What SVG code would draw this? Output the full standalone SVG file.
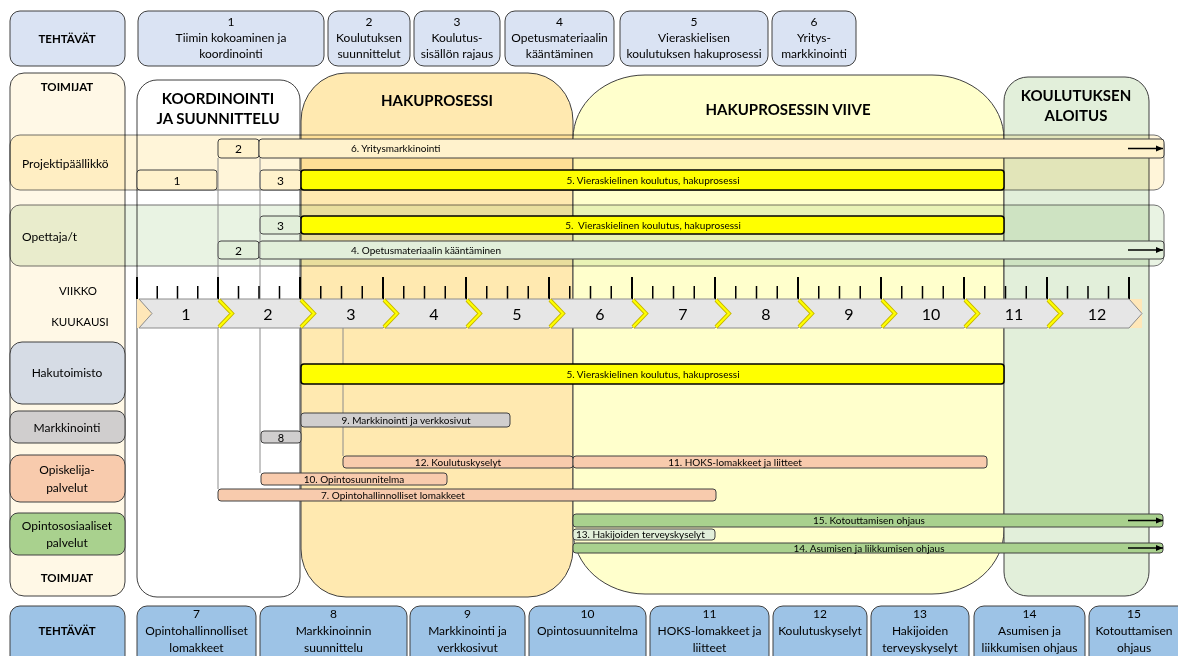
<svg xmlns="http://www.w3.org/2000/svg" width="1178" height="656" viewBox="0 0 1178 656">
<defs>
<marker id="ah" markerWidth="8" markerHeight="8" refX="7" refY="4" orient="auto" markerUnits="userSpaceOnUse"><path d="M0,1 L7,4 L0,7 Z" fill="#000"/></marker>
<style>
.t{font-family:Lato,"Liberation Sans",sans-serif;fill:#000}
.tb{font-family:Lato,"Liberation Sans",sans-serif;font-weight:bold;fill:#000}
.s12{font-size:12px}
.s10{font-size:10px}
.hdr{font-size:15px}
.lbl{font-size:11.5px}
.mid{text-anchor:middle}
.task{fill:#DAE3F3;stroke:#404040;stroke-width:1}
.task2{fill:#9DC3E6;stroke:#404040;stroke-width:1}
.ln{stroke:#404040;stroke-width:1}
.cream{fill:#FFF2CC}
.lg{fill:#E2EFDA}
.yel{fill:#FFFF00;stroke:#000;stroke-width:1.5}
.grey{fill:#D0CECE}
.peach{fill:#F8CBAD}
.green{fill:#A9D18E}
.row{mix-blend-mode:multiply;opacity:0.75}
.arr{stroke:#000;stroke-width:1.5;marker-end:url(#ah)}
.chev{fill:#E6E6E6;stroke:#8C8C8C;stroke-width:1}
.gap{fill:none;stroke:#C8B800;stroke-width:4}
.gap2{fill:none;stroke:#FFFF00;stroke-width:2.2}
.guide{stroke:#8C8C8C;stroke-width:1;fill:none}
</style>
</defs>
<rect width="1178" height="656" fill="#fff"/>

<!-- phase columns -->
<g id="toimijat-col"><rect x="10" y="73" width="115" height="523" rx="14" fill="#FFF8E6" class="ln"/>
<text class="tb lbl mid" x="67" y="91">TOIMIJAT</text>
<text class="tb lbl mid" x="67" y="582">TOIMIJAT</text></g>
<g id="phase-koordinointi"><rect x="137" y="80" width="163" height="517" rx="20" fill="#fff" class="ln"/>
<text class="tb hdr mid" x="218" y="104">KOORDINOINTI</text>
<text class="tb hdr mid" x="218" y="124">JA SUUNNITTELU</text></g>
<g id="phase-hakuprosessi"><rect x="301" y="73" width="272" height="524" rx="45" ry="48" fill="#FFE9B0" class="ln"/>
<text class="tb hdr mid" x="437" y="106">HAKUPROSESSI</text></g>
<g id="phase-viive"><rect x="573" y="75" width="431" height="519" rx="72" ry="64" fill="#FFFFCC" class="ln"/>
<text class="tb hdr mid" x="788" y="115">HAKUPROSESSIN VIIVE</text></g>
<g id="phase-aloitus"><rect x="1004" y="77" width="145" height="519" rx="24" fill="#E2EFDA" class="ln"/>
<text class="tb hdr mid" x="1076" y="101">KOULUTUKSEN</text>
<text class="tb hdr mid" x="1076" y="121">ALOITUS</text></g>

<!-- actor rows -->
<g id="row-projektipaallikko">
<rect class="row" x="10" y="135" width="1154" height="55" rx="10" fill="#FFF2CC" stroke="#404040"/>
<text class="t s12" x="22" y="168">Projektipäällikkö</text>
<rect class="cream ln" x="218" y="139" width="41" height="19" rx="3"/>
<text class="t s12 mid" x="238.5" y="153">2</text>
<rect class="cream ln" x="259" y="139" width="905" height="19" rx="3"/>
<text class="t s10" x="351" y="152">6. Yritysmarkkinointi</text>
<line class="arr" x1="1128" y1="148.5" x2="1163" y2="148.5"/>
<rect class="cream ln" x="137" y="170" width="80" height="20" rx="3"/>
<text class="t s12 mid" x="177" y="184.5">1</text>
<rect class="cream ln" x="260" y="170" width="41" height="20" rx="3"/>
<text class="t s12 mid" x="280.5" y="184.5">3</text>
<rect class="yel" x="301" y="170" width="703" height="20" rx="3"/>
<text class="t s10 mid" x="653" y="184">5. Vieraskielinen koulutus, hakuprosessi</text>
</g>
<g id="row-opettaja">
<rect class="row" x="10" y="205" width="1154" height="61" rx="10" fill="#E2EFDA" stroke="#404040"/>
<text class="t s12" x="22" y="241">Opettaja/t</text>
<rect class="lg ln" x="260" y="216" width="41" height="18" rx="3"/>
<text class="t s12 mid" x="280.5" y="229.5">3</text>
<rect class="yel" x="301" y="216" width="703" height="18" rx="3"/>
<text class="t s10 mid" x="653" y="229">5.&#160; Vieraskielinen koulutus, hakuprosessi</text>
<rect class="lg ln" x="218" y="241" width="41" height="18" rx="3"/>
<text class="t s12 mid" x="238.5" y="254.5">2</text>
<rect class="lg ln" x="259" y="241" width="905" height="18" rx="3"/>
<text class="t s10" x="351" y="254">4. Opetusmateriaalin kääntäminen</text>
<line class="arr" x1="1128" y1="250" x2="1163" y2="250"/>
</g>

<!-- connectors / guide lines -->
<g id="connectors">
<line class="guide" x1="218" y1="158" x2="218" y2="489"/>
<line class="guide" x1="260" y1="158" x2="260" y2="473" stroke="#A6A6A6"/>
<line class="guide" x1="343" y1="328" x2="343" y2="456" stroke="#A39E86"/>
</g>

<!-- timeline -->
<g id="timeline">
<text class="t lbl mid" x="78" y="295">VIIKKO</text>
<text class="t lbl mid" x="80" y="326">KUUKAUSI</text>
<path stroke="#000" stroke-width="2" d="M137,277V299M218,277V299M300,277V299M383,277V299M466,277V299M549,277V299M632,277V299M715,277V299M798,277V299M881,277V299M964,277V299M1047,277V299M1129,277V299"/>
<path stroke="#000" stroke-width="1.5" d="M157.25,286V299M177.5,286V299M197.75,286V299M238.5,286V299M259,286V299M279.5,286V299M320.75,286V299M341.5,286V299M362.25,286V299M403.75,286V299M424.5,286V299M445.25,286V299M486.75,286V299M507.5,286V299M528.25,286V299M569.75,286V299M590.5,286V299M611.25,286V299M652.75,286V299M673.5,286V299M694.25,286V299M735.75,286V299M756.5,286V299M777.25,286V299M818.75,286V299M839.5,286V299M860.25,286V299M901.75,286V299M922.5,286V299M943.25,286V299M984.75,286V299M1005.5,286V299M1026.25,286V299M1067.5,286V299M1088,286V299M1108.5,286V299"/>
<rect x="137" y="299" width="1005" height="29" fill="#FFE7B8"/>
<polygon class="chev" points="139,299 218,299 231,313.5 218,328 139,328 152,313.5"/>
<polygon class="chev" points="220,299 300,299 313,313.5 300,328 220,328 233,313.5"/>
<polygon class="chev" points="302,299 383,299 396,313.5 383,328 302,328 315,313.5"/>
<polygon class="chev" points="385,299 466,299 479,313.5 466,328 385,328 398,313.5"/>
<polygon class="chev" points="468,299 549,299 562,313.5 549,328 468,328 481,313.5"/>
<polygon class="chev" points="551,299 632,299 645,313.5 632,328 551,328 564,313.5"/>
<polygon class="chev" points="634,299 715,299 728,313.5 715,328 634,328 647,313.5"/>
<polygon class="chev" points="717,299 798,299 811,313.5 798,328 717,328 730,313.5"/>
<polygon class="chev" points="800,299 881,299 894,313.5 881,328 800,328 813,313.5"/>
<polygon class="chev" points="883,299 964,299 977,313.5 964,328 883,328 896,313.5"/>
<polygon class="chev" points="966,299 1047,299 1060,313.5 1047,328 966,328 979,313.5"/>
<polygon class="chev" points="1049,299 1129,299 1142,313.5 1129,328 1049,328 1062,313.5"/>
<path class="gap" d="M219,300L232,313.5L219,327M301,300L314,313.5L301,327M384,300L397,313.5L384,327M467,300L480,313.5L467,327M550,300L563,313.5L550,327M633,300L646,313.5L633,327M716,300L729,313.5L716,327M799,300L812,313.5L799,327M882,300L895,313.5L882,327M965,300L978,313.5L965,327M1048,300L1061,313.5L1048,327"/>
<path class="gap2" d="M219,300L232,313.5L219,327M301,300L314,313.5L301,327M384,300L397,313.5L384,327M467,300L480,313.5L467,327M550,300L563,313.5L550,327M633,300L646,313.5L633,327M716,300L729,313.5L716,327M799,300L812,313.5L799,327M882,300L895,313.5L882,327M965,300L978,313.5L965,327M1048,300L1061,313.5L1048,327"/>
<g class="t mid" font-size="16">
<text x="186" y="319.5">1</text><text x="268" y="319.5">2</text><text x="351" y="319.5">3</text><text x="434" y="319.5">4</text>
<text x="517" y="319.5">5</text><text x="600" y="319.5">6</text><text x="683" y="319.5">7</text><text x="766" y="319.5">8</text>
<text x="849" y="319.5">9</text><text x="931" y="319.5">10</text><text x="1014" y="319.5">11</text><text x="1097" y="319.5">12</text>
</g>
</g>

<!-- lower actors -->
<g id="actor-hakutoimisto"><rect x="10" y="342" width="115" height="62" rx="12" fill="#D6DCE5" class="ln"/>
<text class="t s12 mid" x="67" y="377" font-size="12.5">Hakutoimisto</text></g>
<g id="actor-markkinointi"><rect x="10" y="411" width="115" height="32" rx="8" fill="#D0CECE" class="ln"/>
<text class="t s12 mid" x="67" y="431.5">Markkinointi</text></g>
<g id="actor-opiskelijapalvelut"><rect x="10" y="455" width="115" height="47" rx="10" fill="#F8CBAD" class="ln"/>
<text class="t s12 mid" x="67" y="474">Opiskelija-</text>
<text class="t s12 mid" x="67" y="492">palvelut</text></g>
<g id="actor-opintososiaaliset"><rect x="10" y="513" width="115" height="42" rx="8" fill="#A9D18E" class="ln"/>
<text class="t s12 mid" x="67" y="530">Opintososiaaliset</text>
<text class="t s12 mid" x="67" y="547">palvelut</text></g>

<!-- lower bars -->
<g id="bar-hakutoimisto-5"><rect class="yel" x="301" y="364" width="703" height="20" rx="3"/>
<text class="t s10 mid" x="653" y="378">5. Vieraskielinen koulutus, hakuprosessi</text></g>
<g id="bar-9"><rect class="grey ln" x="301" y="413" width="209" height="14" rx="3"/>
<text class="t s10 mid" x="406" y="424">9. Markkinointi ja verkkosivut</text></g>
<g id="bar-8"><rect class="grey ln" x="261" y="431" width="40" height="12" rx="3"/>
<text class="t mid" font-size="11" x="281" y="441.5">8</text></g>
<g id="bar-12"><rect class="peach ln" x="343" y="456" width="230" height="12" rx="3"/>
<text class="t s10 mid" x="458" y="465.5">12. Koulutuskyselyt</text></g>
<g id="bar-11"><rect class="peach ln" x="573" y="456" width="414" height="12" rx="3"/>
<text class="t s10 mid" x="735" y="465.5">11. HOKS-lomakkeet ja liitteet</text></g>
<g id="bar-10"><rect class="peach ln" x="261" y="473" width="186" height="12" rx="3"/>
<text class="t s10 mid" x="354" y="482.5">10. Opintosuunnitelma</text></g>
<g id="bar-7"><rect class="peach ln" x="218" y="489" width="498" height="12" rx="3"/>
<text class="t s10 mid" x="393" y="498.5">7. Opintohallinnolliset lomakkeet</text></g>
<g id="bar-15"><rect class="green ln" x="573" y="514" width="590" height="13" rx="3"/>
<text class="t s10 mid" x="869" y="524">15. Kotouttamisen ohjaus</text>
<line class="arr" x1="1128" y1="520.5" x2="1163" y2="520.5"/></g>
<g id="bar-13"><rect class="lg ln" x="573" y="529" width="142" height="11" rx="3"/>
<text class="t s10" x="576" y="538">13. Hakijoiden terveyskyselyt</text></g>
<g id="bar-14"><rect class="green ln" x="573" y="543" width="590" height="10" rx="3"/>
<text class="t s10 mid" x="869" y="551.5">14. Asumisen ja liikkumisen ohjaus</text>
<line class="arr" x1="1128" y1="548" x2="1163" y2="548"/></g>

<!-- top tasks -->
<g id="top-tehtavat"><rect class="task" x="10" y="11" width="115" height="55" rx="10"/>
<text class="tb lbl mid" x="67" y="43">TEHTÄVÄT</text></g>
<g id="task-1"><rect class="task" x="138" y="11" width="186" height="55" rx="10"/>
<text class="t s12 mid" x="231" y="26">1</text><text class="t s12 mid" x="231" y="42">Tiimin kokoaminen ja</text><text class="t s12 mid" x="231" y="58">koordinointi</text></g>
<g id="task-2"><rect class="task" x="328" y="11" width="82" height="55" rx="10"/>
<text class="t s12 mid" x="369" y="26">2</text><text class="t s12 mid" x="369" y="42">Koulutuksen</text><text class="t s12 mid" x="369" y="58">suunnittelut</text></g>
<g id="task-3"><rect class="task" x="414" y="11" width="86" height="55" rx="10"/>
<text class="t s12 mid" x="457" y="26">3</text><text class="t s12 mid" x="457" y="42">Koulutus-</text><text class="t s12 mid" x="457" y="58">sisällön rajaus</text></g>
<g id="task-4"><rect class="task" x="505" y="11" width="109" height="55" rx="10"/>
<text class="t s12 mid" x="559.5" y="26">4</text><text class="t s12 mid" x="559.5" y="42">Opetusmateriaalin</text><text class="t s12 mid" x="559.5" y="58">kääntäminen</text></g>
<g id="task-5"><rect class="task" x="620" y="11" width="148" height="55" rx="10"/>
<text class="t s12 mid" x="694" y="26">5</text><text class="t s12 mid" x="694" y="42">Vieraskielisen</text><text class="t s12 mid" x="694" y="58">koulutuksen hakuprosessi</text></g>
<g id="task-6"><rect class="task" x="772" y="11" width="84" height="55" rx="10"/>
<text class="t s12 mid" x="814" y="26">6</text><text class="t s12 mid" x="814" y="42">Yritys-</text><text class="t s12 mid" x="814" y="58">markkinointi</text></g>

<!-- bottom tasks -->
<g id="bottom-tehtavat"><rect class="task2" x="10" y="606" width="115" height="60" rx="10"/>
<text class="tb lbl mid" x="67" y="635">TEHTÄVÄT</text></g>
<g id="task-7"><rect class="task2" x="137" y="606" width="119" height="60" rx="10"/>
<text class="t s12 mid" x="196.5" y="618">7</text><text class="t s12 mid" x="196.5" y="635">Opintohallinnolliset</text><text class="t s12 mid" x="196.5" y="652">lomakkeet</text></g>
<g id="task-8"><rect class="task2" x="260" y="606" width="147" height="60" rx="10"/>
<text class="t s12 mid" x="333.5" y="618">8</text><text class="t s12 mid" x="333.5" y="635">Markkinoinnin</text><text class="t s12 mid" x="333.5" y="652">suunnittelu</text></g>
<g id="task-9"><rect class="task2" x="410" y="606" width="115" height="60" rx="10"/>
<text class="t s12 mid" x="467.5" y="618">9</text><text class="t s12 mid" x="467.5" y="635">Markkinointi ja</text><text class="t s12 mid" x="467.5" y="652">verkkosivut</text></g>
<g id="task-10"><rect class="task2" x="529" y="606" width="117" height="60" rx="10"/>
<text class="t s12 mid" x="587.5" y="618">10</text><text class="t s12 mid" x="587.5" y="635">Opintosuunnitelma</text></g>
<g id="task-11"><rect class="task2" x="650" y="606" width="119" height="60" rx="10"/>
<text class="t s12 mid" x="709.5" y="618">11</text><text class="t s12 mid" x="709.5" y="635">HOKS-lomakkeet ja</text><text class="t s12 mid" x="709.5" y="652">liitteet</text></g>
<g id="task-12"><rect class="task2" x="773" y="606" width="94" height="60" rx="10"/>
<text class="t s12 mid" x="820" y="618">12</text><text class="t s12 mid" x="820" y="635">Koulutuskyselyt</text></g>
<g id="task-13"><rect class="task2" x="871" y="606" width="98" height="60" rx="10"/>
<text class="t s12 mid" x="920" y="618">13</text><text class="t s12 mid" x="920" y="635">Hakijoiden</text><text class="t s12 mid" x="920" y="652">terveyskyselyt</text></g>
<g id="task-14"><rect class="task2" x="974" y="606" width="111" height="60" rx="10"/>
<text class="t s12 mid" x="1029.5" y="618">14</text><text class="t s12 mid" x="1029.5" y="635">Asumisen ja</text><text class="t s12 mid" x="1029.5" y="652">liikkumisen ohjaus</text></g>
<g id="task-15"><rect class="task2" x="1089" y="606" width="100" height="60" rx="10"/>
<text class="t s12 mid" x="1134" y="618">15</text><text class="t s12 mid" x="1134" y="635">Kotouttamisen</text><text class="t s12 mid" x="1134" y="652">ohjaus</text></g>
</svg>
